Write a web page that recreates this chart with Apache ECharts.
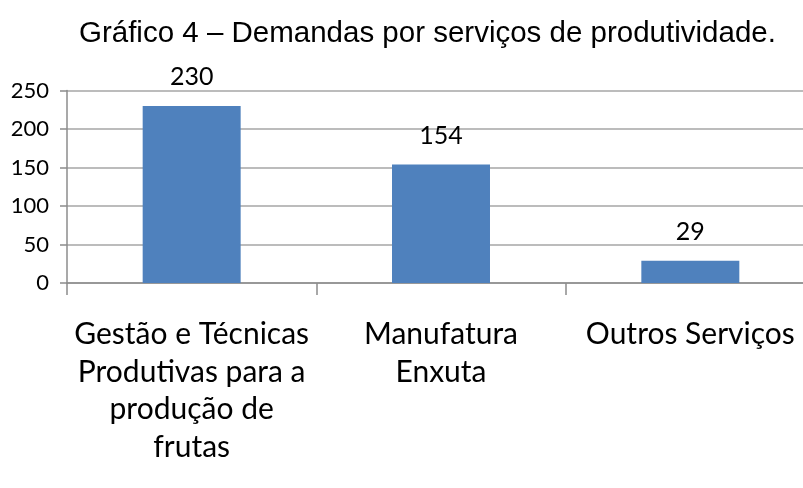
<!DOCTYPE html>
<html>
<head>
<meta charset="utf-8">
<script src="https://cdn.jsdelivr.net/npm/echarts@6/dist/echarts.min.js"></script>
<style>
  html, body { margin: 0; padding: 0; background: #ffffff; }
  #chart { width: 803px; height: 488px; }
</style>
</head>
<body>
<div id="chart"></div>
<script>
// dados do gráfico
var categorias = [
  'Gestão e Técnicas\nProdutivas para a\nprodução de\nfrutas',
  'Manufatura\nEnxuta',
  'Outros Serviços'
];
var demandas = [230, 154, 29];
var titulo = 'Gráfico 4 – Demandas por serviços de produtividade.';

var chart = echarts.init(document.getElementById('chart'));
chart.setOption({
  backgroundColor: '#ffffff',
  animation: false,
  title: {
    text: titulo,
    left: 74,
    top: 14,
    textStyle: {
      fontFamily: 'Liberation Sans',
      fontWeight: 'normal',
      fontSize: 29.5,
      color: '#000000'
    }
  },
  grid: {
    left: 67,
    width: 748,
    top: 90.5,
    height: 192.5,
    outerBoundsMode: 'none'
  },
  xAxis: {
    type: 'category',
    data: categorias,
    boundaryGap: true,
    axisLine: { lineStyle: { color: '#8c8c8c', width: 1.5 } },
    axisTick: { show: true, interval: 0, length: 12, lineStyle: { color: '#8c8c8c', width: 1.5 } },
    axisLabel: {
      interval: 0,
      margin: 33,
      fontFamily: 'Lato',
      fontSize: 30,
      lineHeight: 37.5,
      color: '#000000',
      align: 'center'
    }
  },
  yAxis: {
    type: 'value',
    min: 0,
    max: 250,
    interval: 50,
    axisLine: { show: true, lineStyle: { color: '#8c8c8c', width: 1.5 } },
    axisTick: { show: true, length: 7, lineStyle: { color: '#8c8c8c', width: 1.5 } },
    splitLine: { show: true, lineStyle: { color: '#a6a6a6', width: 1.5 } },
    axisLabel: {
      margin: 18,
      fontFamily: 'Lato',
      fontSize: 22,
      color: '#000000'
    }
  },
  series: [{
    type: 'bar',
    data: demandas,
    barWidth: '39.3%',
    itemStyle: { color: '#4f81bd' },
    label: {
      show: true,
      position: 'top',
      distance: 16,
      fontFamily: 'Lato',
      fontSize: 25,
      color: '#000000'
    }
  }]
});
</script>
</body>
</html>
